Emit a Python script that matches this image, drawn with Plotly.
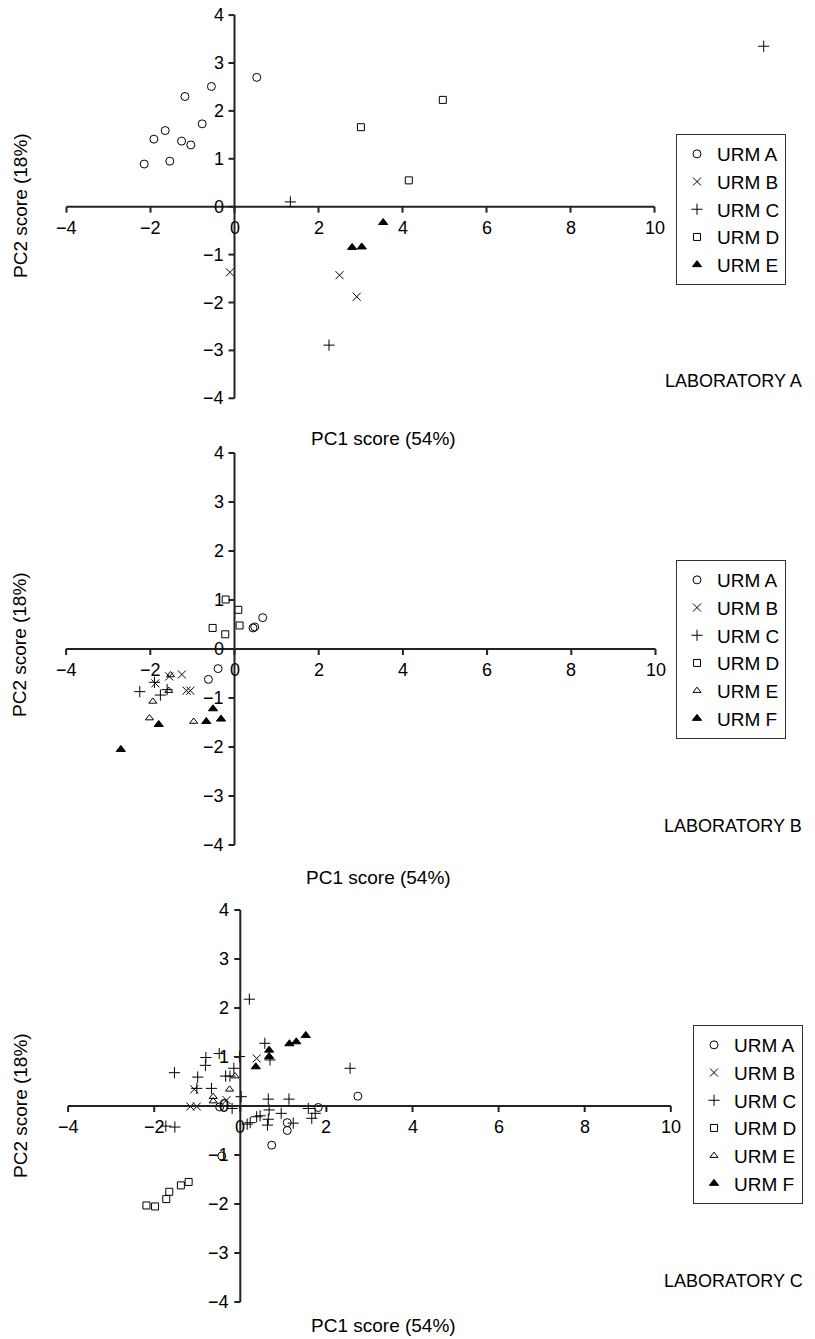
import plotly.graph_objects as go

W, H = 815, 1339
FONT = "Liberation Sans, Arial, sans-serif"

# ---------------- data: LABORATORY A ----------------
A_urmA_x = [-2.15, -1.92, -1.65, -1.54, -1.18, -1.26, -1.04, -0.77, -0.55, 0.53]
A_urmA_y = [0.89, 1.41, 1.59, 0.95, 2.30, 1.37, 1.29, 1.73, 2.51, 2.70]
A_urmB_x = [-0.11, 2.50, 2.91]
A_urmB_y = [-1.37, -1.43, -1.88]
A_urmC_x = [1.33, 2.25, 12.6]
A_urmC_y = [0.10, -2.89, 3.35]
A_urmD_x = [3.01, 4.96, 4.15]
A_urmD_y = [1.66, 2.23, 0.55]
A_urmE_x = [3.54, 2.80, 3.03]
A_urmE_y = [-0.33, -0.85, -0.84]

# ---------------- data: LABORATORY B ----------------
B_urmA_x = [0.67, 0.44, 0.48, -0.39, -0.62]
B_urmA_y = [0.64, 0.43, 0.45, -0.40, -0.62]
B_urmB_x = [-1.25, -1.55, -1.88, -1.14, -1.05]
B_urmB_y = [-0.52, -0.56, -0.70, -0.85, -0.85]
B_urmC_x = [-2.25, -1.90, -1.76, -1.60]
B_urmC_y = [-0.87, -0.68, -0.94, -0.83]
B_urmD_x = [-0.21, 0.09, 0.12, -0.52, -0.22]
B_urmD_y = [1.01, 0.80, 0.48, 0.43, 0.30]
B_urmE_x = [-1.52, -1.56, -1.94, -2.02, -0.97]
B_urmE_y = [-0.53, -0.85, -1.07, -1.41, -1.48]
B_urmF_x = [-2.70, -1.80, -0.67, -0.32, -0.51]
B_urmF_y = [-2.05, -1.54, -1.48, -1.43, -1.22]

# ---------------- data: LABORATORY C ----------------
C_urmA_x = [2.73, 1.81, 1.09, 1.09, 0.73, -0.43, -0.48]
C_urmA_y = [0.20, -0.03, -0.34, -0.50, -0.80, -1.02, -0.02]
C_urmB_x = [0.38, -1.07, -1.16, -1.01, -0.32]
C_urmB_y = [0.97, 0.34, -0.01, -0.01, 0.12]
C_urmC_x = [-1.53, -0.80, -0.81, -0.49, -0.99, -1.01, -0.67, -0.34, -0.24, -0.15, -0.02,
            0.02, -0.19, -1.73, -1.52, 0.16, 0.23, 0.38, 0.46, 0.57, 0.69, 0.65, 0.67,
            0.65, 0.63, 0.95, 1.13, 1.23, 1.58, 1.66, 1.74, 2.55, 0.21]
C_urmC_y = [0.68, 0.99, 0.83, 1.07, 0.59, 0.36, 0.36, 0.61, 0.61, 0.77, 1.01,
            0.19, -0.05, -0.41, -0.43, -0.37, -0.34, -0.22, -0.20, 1.28, 0.94, 0.14, -0.08,
            -0.27, -0.39, -0.15, 0.14, -0.35, -0.05, -0.25, -0.15, 0.77, 2.18]
C_urmD_x = [-1.20, -1.38, -1.65, -1.72, -1.98, -2.18]
C_urmD_y = [-1.55, -1.62, -1.75, -1.90, -2.05, -2.03]
C_urmE_x = [-0.12, -0.25, -0.63, -0.63]
C_urmE_y = [0.61, 0.34, 0.19, 0.10]
C_urmF_x = [1.52, 1.30, 1.14, 0.67, 0.67, 0.36]
C_urmF_y = [1.44, 1.31, 1.27, 1.14, 1.01, 0.80]

x_ticks = [-4, -2, 0, 2, 4, 6, 8, 10]
y_ticks = [-4, -3, -2, -1, 0, 1, 2, 3, 4]
x_title = "PC1 score (54%)"
y_title = "PC2 score (18%)"

SYM = {"o": "circle-open", "x": "x-thin-open", "+": "cross-thin-open",
       "s": "square-open", "t": "triangle-up-open", "T": "triangle-up"}
SIZE = {"o": 8, "x": 8, "+": 8, "s": 7, "t": 7, "T": 8}

panels = [
    dict(name="LABORATORY A", x0=234.5, xs=42.0, y0=206.7, ys=47.9, band=(0, 440),
         legend=(676, 134), lab=(733, 381), pc1=(383, 438), pc2y=206,
         series=[("URM A", "o", A_urmA_x, A_urmA_y), ("URM B", "x", A_urmB_x, A_urmB_y),
                 ("URM C", "+", A_urmC_x, A_urmC_y), ("URM D", "s", A_urmD_x, A_urmD_y),
                 ("URM E", "T", A_urmE_x, A_urmE_y)]),
    dict(name="LABORATORY B", x0=234.5, xs=42.1, y0=649, ys=49, band=(445, 885),
         legend=(676, 560), lab=(733, 826), pc1=(378, 877), pc2y=645,
         series=[("URM A", "o", B_urmA_x, B_urmA_y), ("URM B", "x", B_urmB_x, B_urmB_y),
                 ("URM C", "+", B_urmC_x, B_urmC_y), ("URM D", "s", B_urmD_x, B_urmD_y),
                 ("URM E", "t", B_urmE_x, B_urmE_y), ("URM F", "T", B_urmF_x, B_urmF_y)]),
    dict(name="LABORATORY C", x0=240.3, xs=43.05, y0=1106, ys=49, band=(890, 1339),
         legend=(693, 1025), lab=(733, 1281), pc1=(383, 1325), pc2y=1106,
         series=[("URM A", "o", C_urmA_x, C_urmA_y), ("URM B", "x", C_urmB_x, C_urmB_y),
                 ("URM C", "+", C_urmC_x, C_urmC_y), ("URM D", "s", C_urmD_x, C_urmD_y),
                 ("URM E", "t", C_urmE_x, C_urmE_y), ("URM F", "T", C_urmF_x, C_urmF_y)]),
]

fig = go.Figure()
shapes, annotations = [], []
layout = dict(width=W, height=H, margin=dict(l=0, r=0, t=0, b=0),
              paper_bgcolor="white", plot_bgcolor="white",
              font=dict(family=FONT, size=18, color="black"))


def fmt(v):
    return str(v).replace("-", "\u2212")


for i, p in enumerate(panels):
    n = "" if i == 0 else str(i + 1)
    xr, yr = "x" + n, "y" + n
    lg = "legend" if i == 0 else "legend" + str(i + 1)
    top, bot = p["band"]
    layout["xaxis" + n] = dict(domain=[0, 1], range=[(0 - p["x0"]) / p["xs"], (W - p["x0"]) / p["xs"]],
                               visible=False, anchor=yr)
    layout["yaxis" + n] = dict(domain=[1 - bot / H, 1 - top / H],
                               range=[(p["y0"] - bot) / p["ys"], (p["y0"] - top) / p["ys"]],
                               visible=False, anchor=xr)
    for name, s, xs, ys in p["series"]:
        fig.add_trace(go.Scatter(
            x=xs, y=ys, mode="markers", name=name, xaxis=xr, yaxis=yr, legend=lg,
            marker=dict(symbol=SYM[s], size=SIZE[s], color="black",
                        line=dict(color="black", width=1)),
            cliponaxis=False, hoverinfo="x+y+name"))
    lx, ly = p["legend"]
    layout[lg] = dict(x=lx / W, y=1 - ly / H, xanchor="left", yanchor="top",
                      xref="paper", yref="paper", bgcolor="white",
                      bordercolor="#333", borderwidth=1, itemwidth=30,
                      font=dict(family=FONT, size=19, color="black"))
    line = dict(color="#222", width=2)
    shapes.append(dict(type="line", xref=xr, yref=yr, x0=min(x_ticks), x1=max(x_ticks),
                       y0=0, y1=0, line=line))
    shapes.append(dict(type="line", xref=xr, yref=yr, x0=0, x1=0,
                       y0=min(y_ticks), y1=max(y_ticks), line=line))
    for t in x_ticks:
        shapes.append(dict(type="line", xref=xr, yref=yr, x0=t, x1=t, ysizemode="pixel",
                           yanchor=0, y0=0, y1=-6, line=line))
        annotations.append(dict(xref=xr, yref=yr, x=t, y=0, text=fmt(t), showarrow=False,
                                xanchor="center", yanchor="top", yshift=-9,
                                font=dict(size=18)))
    for t in y_ticks:
        shapes.append(dict(type="line", xref=xr, yref=yr, y0=t, y1=t, xsizemode="pixel",
                           xanchor=0, x0=-6, x1=0, line=line))
        annotations.append(dict(xref=xr, yref=yr, x=0, y=t, text=fmt(t), showarrow=False,
                                xanchor="right", yanchor="middle", xshift=-9,
                                font=dict(size=18)))
    px, py = p["pc1"]
    annotations.append(dict(xref="paper", yref="paper", x=px / W, y=1 - py / H, text=x_title,
                            xanchor="center", yanchor="middle", showarrow=False,
                            font=dict(size=19)))
    annotations.append(dict(xref="paper", yref="paper", x=20 / W, y=1 - p["pc2y"] / H,
                            text=y_title, textangle=-90, xanchor="center", yanchor="middle",
                            showarrow=False, font=dict(size=19)))
    labx, laby = p["lab"]
    annotations.append(dict(xref="paper", yref="paper", x=labx / W, y=1 - laby / H,
                            text=p["name"], xanchor="center", yanchor="middle",
                            showarrow=False, font=dict(size=18)))

layout["shapes"] = shapes
layout["annotations"] = annotations
fig.update_layout(**layout)
fig.write_html("out.html")
